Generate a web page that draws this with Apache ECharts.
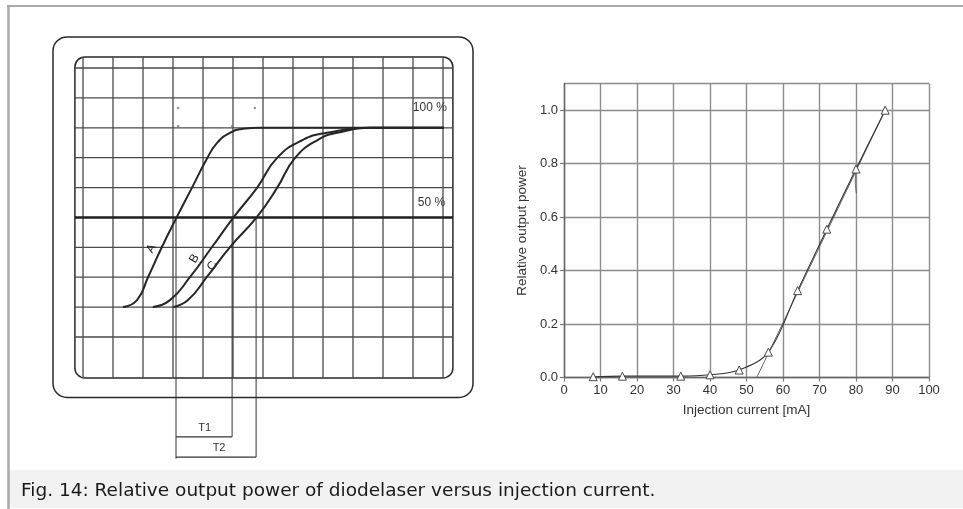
<!DOCTYPE html>
<html><head><meta charset="utf-8">
<style>html,body{margin:0;padding:0;background:#fff;}#chart{width:963px;height:509px;}</style>
<script src="https://cdn.jsdelivr.net/npm/echarts/dist/echarts.min.js"></script>
</head><body><div id="chart"></div>
<script>
// ---------- Left panel: oscilloscope traces (x: screen divisions, y: % of full output) ----------
const curveA = [[1.33,0],[1.80,3.9],[2.17,16.8],[2.63,33.5],[3.13,50.3],[3.63,66.5],[4.13,82.7],[4.47,91.6],[4.90,97.2],[5.33,99.4],[5.90,100],[12.33,100]];
const curveB = [[2.33,0],[2.90,3.9],[3.57,16.8],[4.30,33.5],[5.03,50.3],[5.80,66.5],[6.47,83.2],[7.33,93.3],[8.13,97.2],[9.57,100],[12.33,100]];
const curveC = [[3.00,0],[3.50,3.9],[4.13,16.8],[4.90,33.5],[5.80,50.3],[6.47,66.5],[7.07,83.2],[7.83,93.3],[8.47,97.2],[9.67,100],[12.33,100]];
const curveNames = ['A', 'B', 'C'];
const levelLabels = ['100 %', '50 %'];
const levelPct = [100, 50];
const halfPointX = [3.1, 4.97, 5.77];      // 50% crossings of A, B, C
const spanLabels = ['T1', 'T2'];
const scopeDivX = [0,1,2,3,4,5,6,7,8,9,10,11,12];
const scopeDivY = [0,1,2,3,4,5,6,7,8,9];
const scopeSpecks = [[3.17,7.66],[5.73,7.66],[3.17,7.06],[4.97,7.06]];

// ---------- Right panel: measured characteristic ----------
const currentMA = [8,16,32,40,48,56,64,72,80,88];
const relPower  = [0.003,0.005,0.005,0.010,0.028,0.095,0.325,0.555,0.780,1.000];
const fitLine   = [[52.8,0],[88,1.0]];
const markAt80  = [[80,0.775],[79.8,0.735],[80.1,0.69]];
const xTickLabels = ['0','10','20','30','40','50','60','70','80','90','100'];
const yTickLabels = ['0.0','0.2','0.4','0.6','0.8','1.0'];

const captionText = 'Fig. 14: Relative output power of diodelaser versus injection current.';

// pct -> screen division (0% sits on division 1, 100% on division 7)
const toDiv = p => [p[0], 1 + p[1] * 0.06];

const chart = echarts.init(document.getElementById('chart'));

function renderScope(params, api) {
  const c = (x, y) => api.coord([x, y]);
  const ch = [];
  const line = (x0, y0, x1, y1, lw, col) => {
    const a = c(x0, y0), b = c(x1, y1);
    ch.push({type: 'line', shape: {x1: a[0], y1: a[1], x2: b[0], y2: b[1]},
             style: {stroke: col, lineWidth: lw}});
  };
  const rrect = (x0, y0, x1, y1, r, lw) => {
    const a = c(x0, y1), b = c(x1, y0);
    ch.push({type: 'rect', shape: {x: a[0], y: a[1], width: b[0] - a[0], height: b[1] - a[1], r: r},
             style: {fill: 'none', stroke: '#2a2a2a', lineWidth: lw}});
  };
  const text = (x, y, s, opt) => {
    const p = c(x, y);
    ch.push(Object.assign({type: 'text', x: p[0], y: p[1],
      style: Object.assign({text: s, fill: '#333', font: '11px "Liberation Sans", Arial, sans-serif',
        align: 'center', verticalAlign: 'middle'}, opt.style || {})}, opt.el || {}));
  };
  // outer bezel and screen
  rrect(-1, -2.02, 13.0, 10.04, 14, 1.5);
  const sx0 = -0.27, sx1 = 12.33, sy0 = -1.37, sy1 = 9.37;
  rrect(sx0, sy0, sx1, sy1, 10, 1.5);
  // graticule
  scopeDivX.forEach(gx => line(gx, sy0, gx, sy1, 1.3, '#4a4a4a'));
  scopeDivY.forEach(gy => {
    const is50 = gy === 4;
    line(sx0, gy, sx1, gy, is50 ? 2.4 : 1.3, is50 ? '#1e1e1e' : '#4a4a4a');
  });
  // measurement lines and spans
  const yT1 = -3.34, yT2 = -4.02;
  line(halfPointX[0], 4, halfPointX[0], yT2 - 0.05, 1, '#333');
  line(halfPointX[1], 4, halfPointX[1], yT1, 1, '#333');
  line(halfPointX[2], 4, halfPointX[2], yT2, 1, '#333');
  line(halfPointX[0], yT1, halfPointX[1], yT1, 1.1, '#333');
  line(halfPointX[0], yT2, halfPointX[2], yT2, 1.1, '#333');
  const tFont = '11px "Liberation Sans Narrow", "Liberation Sans", Arial, sans-serif';
  text((halfPointX[0] + halfPointX[1]) / 2 + 0.02, yT1 + 0.3, spanLabels[0], {style: {font: tFont}});
  text((halfPointX[0] + halfPointX[2]) / 2 + 0.1, yT2 + 0.3, spanLabels[1], {style: {font: tFont}});
  // level labels
  const lvlFont = '12px "Liberation Sans", Arial, sans-serif';
  text(12.13, 1 + levelPct[0] * 0.06 + 0.66, levelLabels[0], {style: {align: 'right', font: lvlFont}});
  text(12.07, 1 + levelPct[1] * 0.06 + 0.48, levelLabels[1], {style: {align: 'right', font: lvlFont}});
  // curve letters
  const letterPos = [[2.28, 2.96], [3.71, 2.62], [4.31, 2.38]];
  curveNames.forEach((n, i) => {
    text(letterPos[i][0], letterPos[i][1], n,
      {style: {font: '12px "Liberation Sans", Arial, sans-serif', fill: '#222'}, el: {rotation: Math.PI / 3}});
  });
  return {type: 'group', children: ch};
}

const axisFont = '"Liberation Sans", Arial, Helvetica, sans-serif';
const curveStyle = {color: '#262626', width: 2};

const option = {
  backgroundColor: '#ffffff',
  animation: false,
  graphic: [
    {type: 'rect', shape: {x: 9, y: 470, width: 954, height: 38}, style: {fill: '#f2f2f2'}, z: -10},
    {type: 'line', shape: {x1: 7, y1: 6, x2: 963, y2: 6}, style: {stroke: '#aaaaaa', lineWidth: 2}},
    {type: 'line', shape: {x1: 8.5, y1: 5, x2: 8.5, y2: 509}, style: {stroke: '#aaaaaa', lineWidth: 2.5}},
    {type: 'text', x: 21, y: 491, style: {text: captionText, fill: '#1a1a1a',
      font: '18.5px "DejaVu Sans", sans-serif', verticalAlign: 'middle'}}
  ],
  grid: [
    {left: 83, top: 68, width: 360, height: 269},
    {left: 564, top: 83.5, width: 365, height: 294}
  ],
  xAxis: [
    {gridIndex: 0, type: 'value', min: 0, max: 12, show: false},
    {gridIndex: 1, type: 'value', min: 0, max: 100, interval: 10,
     axisLine: {show: true, lineStyle: {color: '#666', width: 1.4}},
     axisTick: {show: true, length: 4, lineStyle: {color: '#777', width: 1.2}},
     splitLine: {show: true, lineStyle: {color: '#8c8c8c', width: 1.4}},
     axisLabel: {color: '#333', fontSize: 13, fontFamily: axisFont, margin: 6,
                 formatter: v => xTickLabels[Math.round(v / 10)] || ''},
     name: 'Injection current [mA]', nameLocation: 'middle', nameGap: 26,
     nameTextStyle: {color: '#333', fontSize: 13.5, fontFamily: axisFont}}
  ],
  yAxis: [
    {gridIndex: 0, type: 'value', min: 0, max: 9, show: false},
    {gridIndex: 1, type: 'value', min: 0, max: 1.1, interval: 0.2,
     axisLine: {show: true, lineStyle: {color: '#666', width: 1.4}},
     axisTick: {show: true, length: 4, lineStyle: {color: '#777', width: 1.2}},
     splitLine: {show: true, lineStyle: {color: '#8c8c8c', width: 1.4}},
     axisLabel: {color: '#333', fontSize: 13, fontFamily: axisFont, margin: 6, showMaxLabel: false,
                 formatter: v => { const i = Math.round(v / 0.2); return Math.abs(v - i * 0.2) < 1e-6 ? (yTickLabels[i] || '') : ''; }},
     name: 'Relative output power', nameLocation: 'middle', nameGap: 35,
     nameTextStyle: {color: '#333', fontSize: 13.5, fontFamily: axisFont}}
  ],
  series: [
    {type: 'custom', name: 'scope', xAxisIndex: 0, yAxisIndex: 0, clip: false, silent: true,
     data: [[0, 0]], renderItem: renderScope, z: 1},
    {type: 'line', name: curveNames[0], xAxisIndex: 0, yAxisIndex: 0, data: curveA.map(toDiv),
     smooth: 0.5, showSymbol: false, clip: false, lineStyle: curveStyle, z: 3},
    {type: 'line', name: curveNames[1], xAxisIndex: 0, yAxisIndex: 0, data: curveB.map(toDiv),
     smooth: 0.5, showSymbol: false, clip: false, lineStyle: curveStyle, z: 3},
    {type: 'line', name: curveNames[2], xAxisIndex: 0, yAxisIndex: 0, data: curveC.map(toDiv),
     smooth: 0.5, showSymbol: false, clip: false, lineStyle: curveStyle, z: 3},
    {type: 'scatter', name: 'specks', xAxisIndex: 0, yAxisIndex: 0, data: scopeSpecks,
     symbolSize: 2.5, itemStyle: {color: '#777'}, z: 3},
    {type: 'line', name: 'fit', xAxisIndex: 1, yAxisIndex: 1, data: fitLine, showSymbol: false,
     lineStyle: {color: '#555', width: 0.9}, z: 4},
    {type: 'line', name: 'mark', xAxisIndex: 1, yAxisIndex: 1, data: markAt80, showSymbol: false,
     smooth: true, lineStyle: {color: '#555', width: 0.9}, z: 4},
    {type: 'line', name: 'measured', xAxisIndex: 1, yAxisIndex: 1,
     data: currentMA.map((x, i) => [x, relPower[i]]), smooth: 0.35,
     symbol: 'triangle', symbolSize: 8, showSymbol: true,
     itemStyle: {color: '#ffffff', borderColor: '#4a4a4a', borderWidth: 1},
     lineStyle: {color: '#333', width: 1.1}, z: 5}
  ]
};
chart.setOption(option);
</script></body></html>
